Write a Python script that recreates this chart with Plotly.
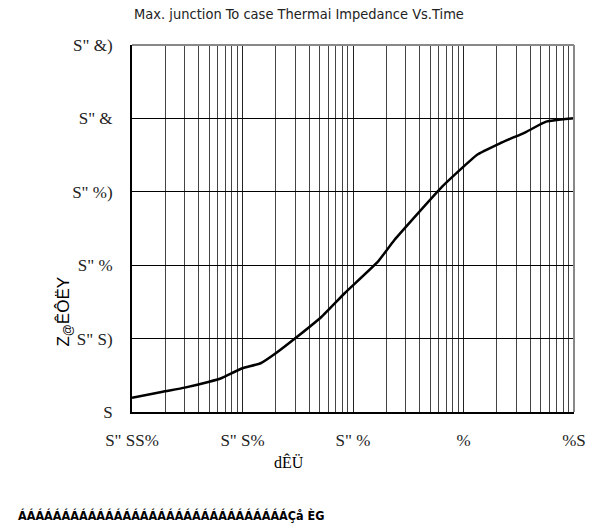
import plotly.graph_objects as go

# Thermal impedance curve (time in s, impedance in K/W)
time_s = [0.001, 0.0019, 0.003, 0.005, 0.0064, 0.0076, 0.01, 0.0146, 0.02, 0.03,
          0.052, 0.084, 0.168, 0.237, 0.62, 1.0, 1.32, 2.14, 3.7, 5.6, 10.0]
zth = [0.0097, 0.0138, 0.0166, 0.0206, 0.0230, 0.0257, 0.0298, 0.0332, 0.0400, 0.0502,
       0.0649, 0.0809, 0.1024, 0.1172, 0.1524, 0.1671, 0.1751, 0.1830, 0.1909, 0.1978, 0.2001]

x_tickvals = [0.001, 0.01, 0.1, 1, 10]
x_ticktext = ['S" SS%', 'S" S%', 'S" %', '%', '%S']
y_tickvals = [0, 0.05, 0.1, 0.15, 0.2, 0.25]
y_ticktext = ['S', 'S" S)', 'S" %', 'S" %)', 'S" &', 'S" &)']

fig = go.Figure()
fig.add_trace(go.Scatter(x=time_s, y=zth, mode="lines",
                         line=dict(color="black", width=2.5, shape="spline", smoothing=0.4),
                         showlegend=False, hoverinfo="skip"))

serif = "Liberation Serif"
sans = "Liberation Sans"
condensed = "DejaVu Sans Condensed"

fig.update_layout(
    width=598, height=530,
    margin=dict(l=132, r=20, t=45, b=118),
    paper_bgcolor="white", plot_bgcolor="white",
    title=dict(text="Max. junction To case Thermai Impedance Vs.Time",
               x=0.5, xanchor="center", y=1 - 14 / 530, yanchor="middle",
               font=dict(family=condensed, size=14.5, color="#222")),
    xaxis=dict(type="log", range=[-3, 1], tickvals=x_tickvals, ticktext=x_ticktext,
               showgrid=True, gridcolor="#222", gridwidth=1,
               minor=dict(dtick="D1", showgrid=True, gridcolor="#444", gridwidth=1, ticks=""),
               showline=True, linecolor="black", linewidth=2,
               ticks="", ticklabelstandoff=12,
               tickfont=dict(family=serif, size=17, color="#222"),
               zeroline=False),
    yaxis=dict(range=[0, 0.25], tickvals=y_tickvals, ticktext=y_ticktext,
               showgrid=True, gridcolor="black", gridwidth=1,
               showline=True, linecolor="black", linewidth=2,
               ticks="", ticklabelstandoff=14,
               tickfont=dict(family=serif, size=17, color="#222"),
               zeroline=False),
    shapes=[
        dict(type="line", xref="paper", yref="paper", x0=0, x1=1, y0=1, y1=1,
             line=dict(color="#888", width=2)),
        dict(type="line", xref="paper", yref="paper", x0=1, x1=1, y0=0, y1=1,
             line=dict(color="#888", width=2)),
    ],
    annotations=[
        # axis titles
        dict(text="dÊÜ", xref="paper", yref="paper",
             x=(290 - 132) / 446, y=-(462 - 412) / 367, xanchor="center", yanchor="middle",
             showarrow=False, font=dict(family=serif, size=16, color="black")),
        dict(text="Z<sub>@</sub>ÊÔËY", xref="paper", yref="paper", textangle=-90,
             x=-(132 - 64) / 446, y=(412 - 312) / 367, xanchor="center", yanchor="middle",
             showarrow=False, font=dict(family=sans, size=17, color="black")),
        # footer line
        dict(text="<b>" + "Á" * 31 + "Çå ÈG</b>", xref="paper", yref="paper",
             x=-(132 - 15) / 446, y=-(515 - 412) / 367, xanchor="left", yanchor="middle",
             showarrow=False, font=dict(family=condensed, size=12.5, color="black")),
    ],
)

fig.write_html("out.html")
